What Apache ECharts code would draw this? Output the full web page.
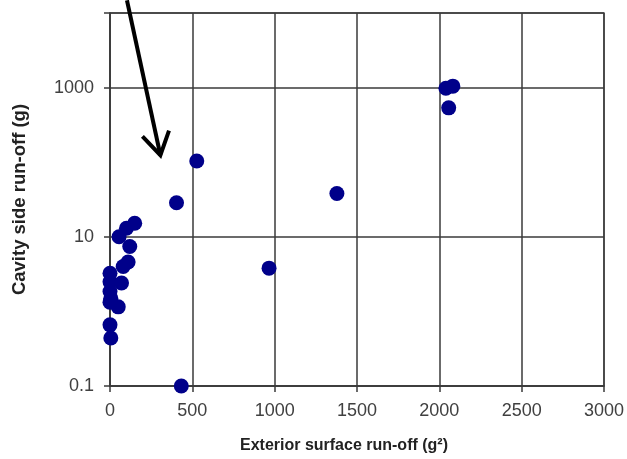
<!DOCTYPE html>
<html>
<head>
<meta charset="utf-8">
<script src="https://cdn.jsdelivr.net/npm/echarts@6/dist/echarts.min.js"></script>
<style>
html,body{margin:0;padding:0;background:#fff;}
#c{width:627px;height:459px;}
</style>
</head>
<body>
<div id="c"></div>
<script>
// Exterior surface run-off (g²)
const exteriorRunoff = [150, 100, 55, 120, 110, 80, 0, 0, 70, 0, 5, 50, 0, 0, 5,
  404, 527, 966, 1378, 433, 2040, 2082, 2057];
// Cavity side run-off (g)
const cavityRunoff = [15.2, 13.0, 10.0, 7.4, 4.6, 4.0, 3.25, 2.5, 2.4, 1.85, 1.5, 1.15, 1.33, 0.66, 0.44,
  28.6, 104, 3.8, 38, 0.1, 982, 1045, 535];
const xTicks = [0, 500, 1000, 1500, 2000, 2500, 3000];
const yTickLabels = ['0.1', '10', '1000'];
// arrow annotation in data coords: [start, tip]
const arrowStart = [103, 14800];
const arrowTip = [306, 124];

const points = exteriorRunoff.map((x, i) => [x, cavityRunoff[i]]);
const chart = echarts.init(document.getElementById('c'), null, {renderer: 'canvas'});
const axisColor = '#3a3a3a';
chart.setOption({
  animation: false,
  backgroundColor: '#fff',
  grid: {left: 110, right: 19, top: 13, bottom: 72, show: true, borderColor: '#555', borderWidth: 1.5, containLabel: false},
  xAxis: {
    type: 'value', min: 0, max: 3000, interval: 500,
    name: 'Exterior surface run-off (g²)', nameLocation: 'middle', nameGap: 52,
    nameTextStyle: {fontFamily: 'Liberation Sans', fontWeight: 'bold', fontSize: 16, color: '#222', padding: [0, 26, 0, 0]},
    axisLine: {show: true, lineStyle: {color: axisColor, width: 1.5}},
    axisTick: {show: true, length: 6, lineStyle: {color: axisColor, width: 1.5}},
    axisLabel: {margin: 16, fontFamily: 'Liberation Sans', fontSize: 18, color: '#404040',
      formatter: v => xTicks.includes(v) ? String(v) : ''},
    splitLine: {show: true, lineStyle: {color: axisColor, width: 1.5}}
  },
  yAxis: {
    type: 'log', logBase: 10, min: 0.1, max: 10000, interval: 2,
    name: 'Cavity side run-off (g)', nameLocation: 'middle', nameGap: 81,
    nameTextStyle: {fontFamily: 'Liberation Sans', fontWeight: 'bold', fontSize: 18.5, color: '#222'},
    axisLine: {show: true, lineStyle: {color: axisColor, width: 1.5}},
    axisTick: {show: true, length: 6, lineStyle: {color: axisColor, width: 1.5}},
    axisLabel: {margin: 16, fontFamily: 'Liberation Sans', fontSize: 18, color: '#404040',
      formatter: v => { const s = String(+v.toPrecision(6)); return yTickLabels.includes(s) ? s : ''; }},
    splitLine: {show: true, lineStyle: {color: axisColor, width: 1.5}}
  },
  series: [{
    type: 'scatter', data: points, symbol: 'circle', symbolSize: 15,
    itemStyle: {color: '#00008a', opacity: 1}, clip: false
  }]
});
const p0 = chart.convertToPixel({gridIndex: 0}, arrowStart);
const p1 = chart.convertToPixel({gridIndex: 0}, arrowTip);
const ang = Math.atan2(p1[1] - p0[1], p1[0] - p0[0]);
const hl = 26, ha = 0.55;
const w1 = [p1[0] - hl * Math.cos(ang - ha), p1[1] - hl * Math.sin(ang - ha)];
const w2 = [p1[0] - hl * Math.cos(ang + ha), p1[1] - hl * Math.sin(ang + ha)];
chart.setOption({
  graphic: [
    {type: 'polyline', shape: {points: [p0, p1]}, style: {stroke: '#000', lineWidth: 4}, z: 100},
    {type: 'polyline', shape: {points: [w1, p1, w2]}, style: {stroke: '#000', lineWidth: 4, fill: null, lineJoin: 'miter'}, z: 100}
  ]
});
</script>
</body>
</html>
